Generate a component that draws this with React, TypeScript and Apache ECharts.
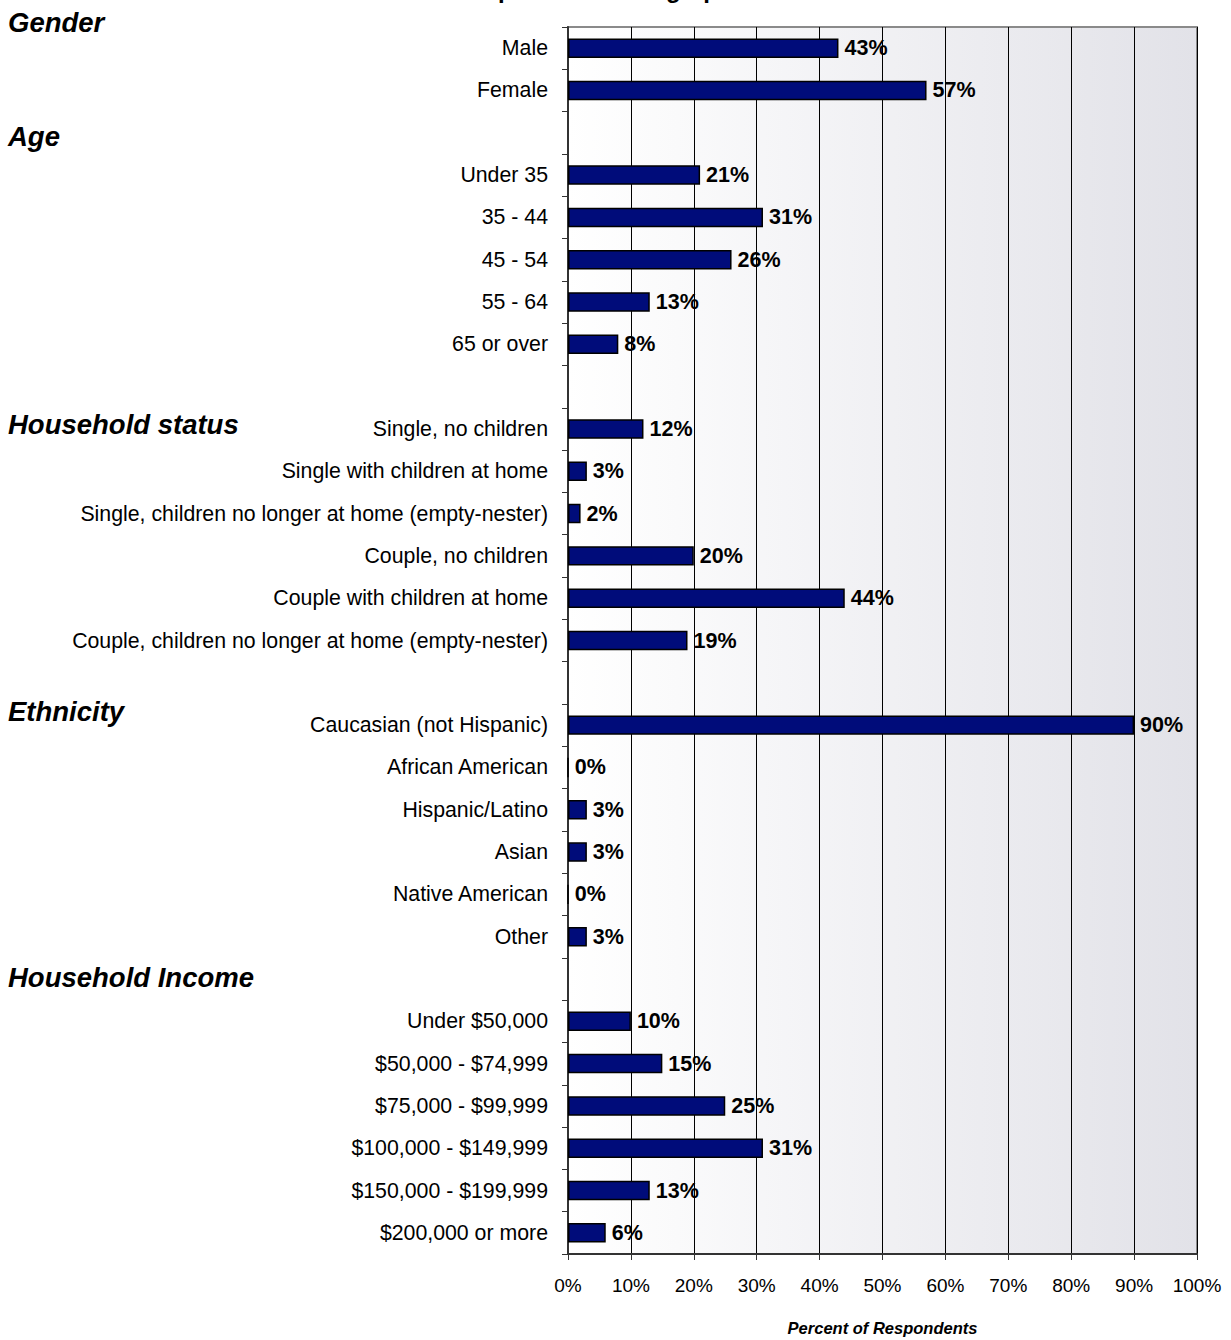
import React, { useEffect, useRef } from "react";
import * as echarts from "echarts";

// Row labels, top to bottom; blank strings are spacer rows between sections
const categories = [
  "Male", "Female", " ",
  "Under 35", "35 - 44", "45 - 54", "55 - 64", "65 or over", "  ",
  "Single, no children", "Single with children at home",
  "Single, children no longer at home (empty-nester)", "Couple, no children",
  "Couple with children at home", "Couple, children no longer at home (empty-nester)", "   ",
  "Caucasian (not Hispanic)", "African American", "Hispanic/Latino", "Asian",
  "Native American", "Other", "    ",
  "Under $50,000", "$50,000 - $74,999", "$75,000 - $99,999",
  "$100,000 - $149,999", "$150,000 - $199,999", "$200,000 or more",
];

const genderValues = [43, 57];
const ageValues = [21, 31, 26, 13, 8];
const householdValues = [12, 3, 2, 20, 44, 19];
const ethnicityValues = [90, 0, 3, 3, 0, 3];
const incomeValues = [10, 15, 25, 31, 13, 6];

const sectionLabels = ["Gender", "Age", "Household status", "Ethnicity", "Household Income"];
const sectionLabelY = [22, 136, 424, 711, 977];

const xTicks = [0, 100, 10];
const chartTitle = "Respondent Demographics";
const xAxisName = "Percent of Respondents";

const values: (number | null)[] = [
  ...genderValues, null,
  ...ageValues, null,
  ...householdValues, null,
  ...ethnicityValues, null,
  ...incomeValues,
];

const FONT = "'Liberation Sans', Arial, sans-serif";

export default function App() {
  const ref = useRef<HTMLDivElement>(null);

  useEffect(() => {
    if (!ref.current) return;
    document.body.style.margin = "0";
    const chart = echarts.init(ref.current, undefined, { renderer: "svg" });
    chart.setOption({
      animation: false,
      grid: {
        left: 568,
        right: 34,
        top: 27,
        bottom: 86,
        outerBoundsMode: "none",
        containLabel: false,
        show: true,
        borderColor: "#8a8a8a",
        borderWidth: 2,
        backgroundColor: new echarts.graphic.LinearGradient(0, 0, 1, 0, [
          { offset: 0, color: "#ffffff" },
          { offset: 1, color: "#e2e2e8" },
        ]),
      },
      xAxis: {
        type: "value",
        min: xTicks[0],
        max: xTicks[1],
        interval: xTicks[2],
        name: xAxisName,
        nameLocation: "middle",
        nameGap: 65,
        nameTextStyle: {
          fontFamily: FONT,
          fontWeight: "bold",
          fontStyle: "italic",
          fontSize: 16.5,
          color: "#000",
        },
        axisLine: { show: true, lineStyle: { color: "#333", width: 2 } },
        axisTick: { show: true, length: 6, lineStyle: { color: "#333" } },
        axisLabel: {
          formatter: "{value}%",
          fontFamily: FONT,
          fontSize: 19,
          color: "#000",
          margin: 22,
        },
        splitLine: { show: true, lineStyle: { color: "#000", width: 1 } },
      },
      yAxis: {
        type: "category",
        inverse: true,
        data: categories,
        axisLine: { show: true, lineStyle: { color: "#333", width: 2 } },
        axisTick: { show: true, length: 6, lineStyle: { color: "#333" } },
        axisLabel: {
          fontFamily: FONT,
          fontSize: 21.3,
          color: "#000",
          margin: 20,
        },
        splitLine: { show: false },
      },
      series: [
        {
          type: "bar",
          data: values,
          barWidth: "46%",
          itemStyle: { color: "#000c7a", borderColor: "#000", borderWidth: 1.5 },
          label: {
            show: true,
            position: "right",
            distance: 6,
            formatter: (p: any) => `${p.value}%`,
            fontFamily: FONT,
            fontWeight: "bold",
            fontSize: 21.5,
            color: "#000",
          },
        },
      ],
      graphic: [
        {
          type: "text",
          left: 454,
          top: -23,
          style: {
            text: chartTitle,
            fontFamily: FONT,
            fontWeight: "bold",
            fontSize: 24,
            fill: "#000",
          },
        },
        ...sectionLabels.map((t, i) => ({
          type: "text",
          x: 8,
          y: sectionLabelY[i],
          style: {
            text: t,
            fontFamily: FONT,
            fontWeight: "bold",
            fontStyle: "italic",
            fontSize: 27.5,
            fill: "#000",
            verticalAlign: "middle",
          },
        })),
      ],
    });
    return () => chart.dispose();
  }, []);

  return <div ref={ref} style={{ width: 1231, height: 1340 }} />;
}
